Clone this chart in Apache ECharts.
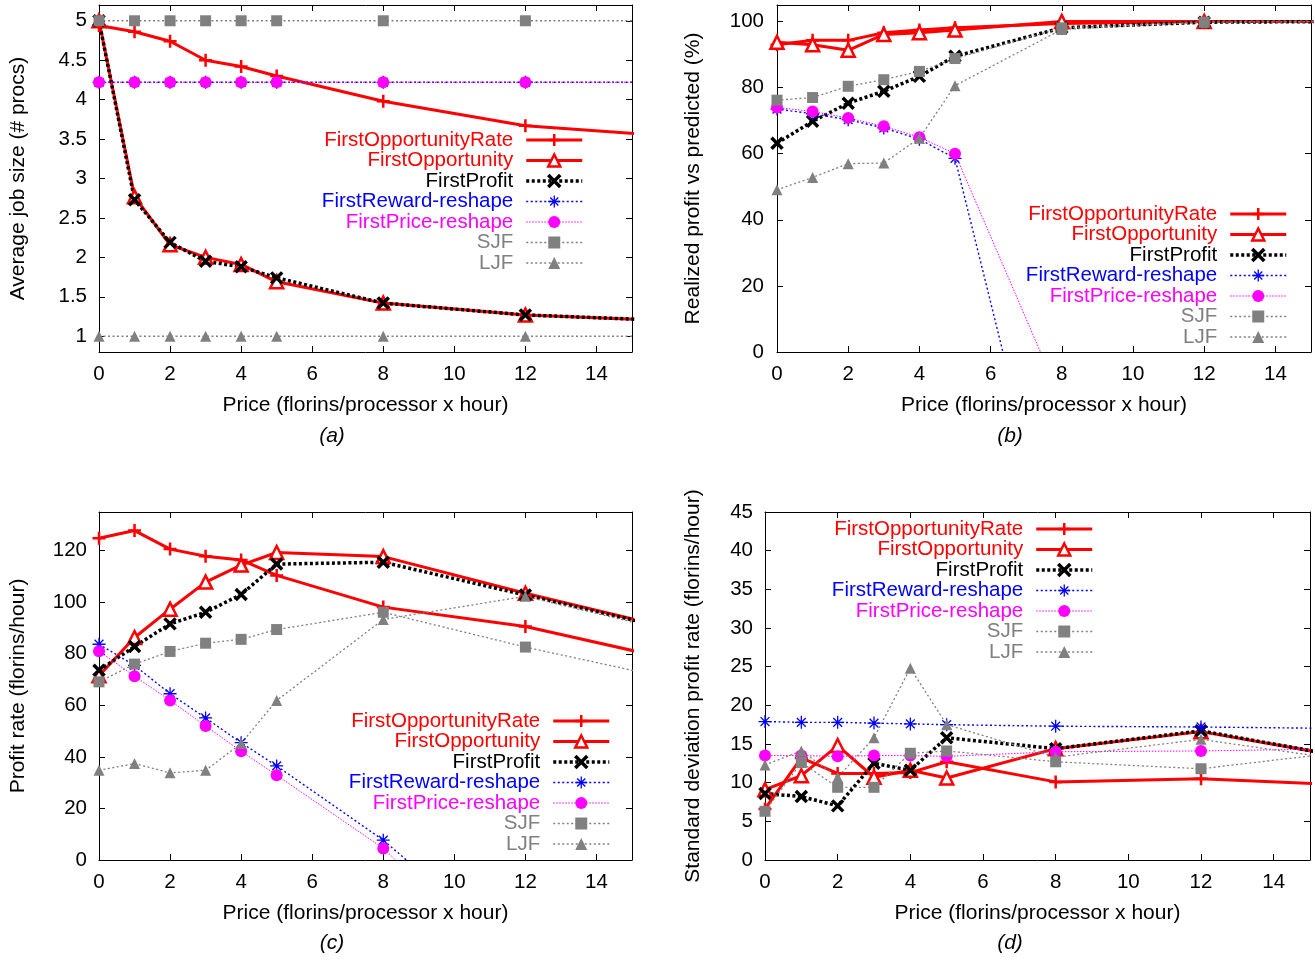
<!DOCTYPE html>
<html><head><meta charset="utf-8">
<script src="https://cdn.jsdelivr.net/npm/echarts@6/dist/echarts.min.js"></script>
<style>html,body{margin:0;padding:0;background:#fff}#chart{width:1315px;height:960px}</style>
</head><body><div id="chart"></div>
<script>
// ---------- data ----------
const seriesNames = ['FirstOpportunityRate','FirstOpportunity','FirstProfit','FirstReward-reshape','FirstPrice-reshape','SJF','LJF'];
const priceX = [0, 1, 2, 3, 4, 5, 8, 12, 16];
const priceTicks = [0, 2, 4, 6, 8, 10, 12, 14];

// (a) Average job size (# procs)
const jobSizeTicks = [1, 1.5, 2, 2.5, 3, 3.5, 4, 4.5, 5];
const jobSize_FOR  = [4.94, 4.86, 4.74, 4.50, 4.42, 4.30, 3.98, 3.67, 3.54];
const jobSize_FO   = [5.00, 2.77, 2.16, 2.00, 1.91, 1.69, 1.42, 1.27, 1.20];
const jobSize_FP   = [5.00, 2.73, 2.19, 1.95, 1.88, 1.74, 1.42, 1.27, 1.20];
const jobSize_FR   = [4.22, 4.22, 4.22, 4.22, 4.22, 4.22, 4.22, 4.22, 4.22];
const jobSize_FPr  = [4.22, 4.22, 4.22, 4.22, 4.22, 4.22, 4.22, 4.22, 4.22];
const jobSize_SJF  = [5, 5, 5, 5, 5, 5, 5, 5, 5];
const jobSize_LJF  = [1, 1, 1, 1, 1, 1, 1, 1, 1];

// (b) Realized profit vs predicted (%)
const realizedTicks = [0, 20, 40, 60, 80, 100];
const realized_FOR = [93.0, 94.3, 94.3, 96.6, 97.4, 98.1, 99.4, 100, 100];
const realized_FO  = [93.7, 93.0, 91.3, 96.1, 96.6, 97.4, 100, 100, 100];
const realized_FP  = [63.2, 69.8, 75.3, 78.9, 83.4, 89.5, 98.1, 99.8, 100];
const realized_FR  = [73.5, 72.1, 70.3, 67.8, 64.4, 58.6, -72, null, null];
const realized_FPr = [74.0, 72.8, 70.8, 68.3, 65.0, 60.0, -15, null, null];
const realized_SJF = [76.2, 77.0, 80.4, 82.4, 84.9, 88.8, 98.1, 99.8, 100];
const realized_LJF = [49.1, 52.8, 57.0, 57.2, 64.7, 80.6, 97.6, 99.8, 100];

// (c) Profit rate (florins/hour)
const profitTicks = [0, 20, 40, 60, 80, 100, 120];
const profit_FOR = [124.8, 127.8, 120.6, 117.8, 116.4, 110.4, 98.1, 90.6, 78.2];
const profit_FO  = [71.5, 86.3, 97.3, 107.8, 114.4, 119.3, 117.7, 103.5, 90.2];
const profit_FP  = [73.6, 82.8, 91.6, 96.1, 103.0, 114.8, 115.5, 102.8, 90.0];
const profit_FR  = [83.7, 75.5, 64.5, 55.1, 45.5, 36.5, 7.7, -39.5, null];
const profit_FPr = [81.0, 71.3, 61.9, 52.0, 42.2, 32.9, 4.5, -47, null];
const profit_SJF = [69.1, 76.0, 80.9, 84.1, 85.6, 89.4, 96.1, 82.6, 70.6];
const profit_LJF = [34.8, 37.4, 33.8, 34.8, 45.2, 61.9, 93.3, 102.3, 89.0];

// (d) Standard deviation profit rate (florins/hour)
const stdTicks = [0, 5, 10, 15, 20, 25, 30, 35, 40, 45];
const std_FOR = [6.6, 13.2, 11.2, 11.2, 11.3, 12.7, 10.1, 10.5, 9.7];
const std_FO  = [9.1, 10.9, 14.8, 10.7, 11.6, 10.6, 14.4, 16.6, 13.3];
const std_FP  = [8.6, 8.2, 7.0, 12.5, 11.6, 15.8, 14.4, 16.7, 13.3];
const std_FR  = [17.9, 17.8, 17.8, 17.7, 17.6, 17.5, 17.3, 17.2, 17.0];
const std_FPr = [13.5, 13.5, 13.4, 13.5, 13.5, 13.4, 14.0, 14.1, 14.4];
const std_SJF = [6.3, 12.6, 9.4, 9.4, 13.8, 14.1, 12.7, 11.8, 14.0];
const std_LJF = [12.3, 14.1, 10.7, 15.8, 24.8, 17.5, 13.3, 15.6, 12.9];

// ---------- styles ----------
const FONT = "'Liberation Sans', Arial, Helvetica, sans-serif";
const RED = '#ff0000', BLUE = '#0000ff', MAG = '#ff00ff', GRAY = '#808080', BLACK = '#000000';
const PLUS = 'path://M5 0L5 10M0 5L10 5';
const CROSS = 'path://M0 0L10 10M10 0L0 10';
const STAR = 'path://M5 0L5 10M0 5L10 5M1.6 1.6L8.4 8.4M8.4 1.6L1.6 8.4';
const styles = [
  {text: RED,   line: RED,   width: 3,   dash: 'solid',  symbol: PLUS,       size: 13, fill: RED,    stroke: RED,   sw: 2.5},
  {text: RED,   line: RED,   width: 3,   dash: 'solid',  symbol: 'triangle', size: 13, fill: '#fff', stroke: RED,   sw: 2.5},
  {text: BLACK, line: BLACK, width: 3.5, dash: [3, 2.5], symbol: CROSS,      size: 11, fill: BLACK,  stroke: BLACK, sw: 3.5},
  {text: BLUE,  line: BLUE,  width: 1.4, dash: [2, 2.5], symbol: STAR,       size: 13, fill: BLUE,   stroke: BLUE,  sw: 1.3},
  {text: MAG,   line: MAG,   width: 1,   dash: [1.5, 1.5], symbol: 'circle', size: 12, fill: MAG,    stroke: MAG,   sw: 0},
  {text: GRAY,  line: GRAY,  width: 1.3, dash: [2, 2.5], symbol: 'rect',     size: 11, fill: GRAY,   stroke: GRAY,  sw: 0},
  {text: GRAY,  line: GRAY,  width: 1.3, dash: [2, 2.5], symbol: 'triangle', size: 11, fill: GRAY,   stroke: GRAY,  sw: 0}
];

const panels = [
  {grid: {left: 99, top: 5, width: 533, height: 347}, yMin: 0.8, yMax: 5.2, yTicks: jobSizeTicks,
   yName: 'Average job size (# procs)', yNameGap: 70, yLabelMargin: 12,
   values: [jobSize_FOR, jobSize_FO, jobSize_FP, jobSize_FR, jobSize_FPr, jobSize_SJF, jobSize_LJF],
   legend: {right: 726, top: 124.5}, caption: '(a)', capX: 332, capY: 436},
  {grid: {left: 777, top: 5, width: 534, height: 347}, yMin: 0, yMax: 105, yTicks: realizedTicks,
   yName: 'Realized profit vs predicted (%)', yNameGap: 73, yLabelMargin: 13,
   values: [realized_FOR, realized_FO, realized_FP, realized_FR, realized_FPr, realized_SJF, realized_LJF],
   legend: {right: 22, top: 198.5}, caption: '(b)', capX: 1010, capY: 436},
  {grid: {left: 99, top: 512, width: 533, height: 348}, yMin: 0, yMax: 135, yTicks: profitTicks,
   yName: 'Profit rate (florins/hour)', yNameGap: 70, yLabelMargin: 12,
   values: [profit_FOR, profit_FO, profit_FP, profit_FR, profit_FPr, profit_SJF, profit_LJF],
   legend: {right: 699, top: 705.5}, caption: '(c)', capX: 332, capY: 943},
  {grid: {left: 765, top: 512, width: 545, height: 348}, yMin: 0, yMax: 45, yTicks: stdTicks,
   yName: 'Standard deviation profit rate (florins/hour)', yNameGap: 61, yLabelMargin: 12,
   values: [std_FOR, std_FO, std_FP, std_FR, std_FPr, std_SJF, std_LJF],
   legend: {right: 216, top: 513.5}, caption: '(d)', capX: 1010, capY: 943}
];

const grids = [], xAxes = [], yAxes = [], series = [], legends = [], graphics = [];
const axisLineStyle = {show: true, onZero: false, lineStyle: {color: '#000', width: 1}};

panels.forEach((p, pi) => {
  grids.push(Object.assign({containLabel: false, outerBoundsMode: 'none'}, p.grid));
  xAxes.push({
    type: 'value', gridIndex: pi, position: 'bottom', min: 0, max: 15,
    axisLine: axisLineStyle,
    axisTick: {show: true, inside: true, length: 6, customValues: priceTicks, lineStyle: {color: '#000'}},
    axisLabel: {show: true, customValues: priceTicks, margin: 12, fontSize: 20.5, color: '#000', fontFamily: FONT},
    splitLine: {show: false},
    name: 'Price (florins/processor x hour)', nameLocation: 'middle', nameGap: 43,
    nameTextStyle: {fontSize: 21, color: '#000', fontFamily: FONT}
  });
  xAxes.push({
    type: 'value', gridIndex: pi, position: 'top', min: 0, max: 15,
    axisLine: axisLineStyle,
    axisTick: {show: true, inside: true, length: 6, customValues: priceTicks, lineStyle: {color: '#000'}},
    axisLabel: {show: false}, splitLine: {show: false}
  });
  yAxes.push({
    type: 'value', gridIndex: pi, position: 'left', min: p.yMin, max: p.yMax,
    axisLine: axisLineStyle,
    axisTick: {show: true, inside: true, length: 6, customValues: p.yTicks, lineStyle: {color: '#000'}},
    axisLabel: {show: true, customValues: p.yTicks, margin: p.yLabelMargin, fontSize: 20.5, color: '#000', fontFamily: FONT},
    splitLine: {show: false},
    name: p.yName, nameLocation: 'middle', nameGap: p.yNameGap,
    nameTextStyle: {fontSize: 21, color: '#000', fontFamily: FONT}
  });
  yAxes.push({
    type: 'value', gridIndex: pi, position: 'right', min: p.yMin, max: p.yMax,
    axisLine: axisLineStyle,
    axisTick: {show: true, inside: true, length: 6, customValues: p.yTicks, lineStyle: {color: '#000'}},
    axisLabel: {show: false}, splitLine: {show: false}
  });
  seriesNames.forEach((name, si) => {
    const st = styles[si];
    const vals = p.values[si];
    const data = [];
    priceX.forEach((x, k) => { if (vals[k] != null) data.push([x, vals[k]]); });
    series.push({
      type: 'line', name: name, xAxisIndex: pi * 2, yAxisIndex: pi * 2, data: data,
      symbol: st.symbol, symbolSize: st.size, showAllSymbol: true,
      lineStyle: {color: st.line, width: st.width, type: st.dash},
      itemStyle: {color: st.fill, borderColor: st.stroke, borderWidth: st.sw},
      clip: true, silent: true, animation: false, emphasis: {disabled: true}
    });
  });
  legends.push({
    orient: 'vertical', align: 'right', right: p.legend.right, top: p.legend.top,
    itemWidth: 56, itemHeight: 15, itemGap: -0.5, padding: 5, selectedMode: false,
    textStyle: {fontSize: 20.5, lineHeight: 20.5, fontFamily: FONT, padding: [0, 8, 0, 0]},
    data: seriesNames.map((n, si) => ({
      name: n,
      textStyle: {color: styles[si].text},
      itemStyle: {color: styles[si].fill, borderColor: styles[si].stroke, borderWidth: styles[si].sw},
      lineStyle: {color: styles[si].line, width: styles[si].width, type: styles[si].dash}
    }))
  });
  graphics.push({
    type: 'text', x: p.capX, y: p.capY,
    style: {text: p.caption, fontSize: 21, fontStyle: 'italic', fontFamily: FONT, fill: '#000', align: 'center', verticalAlign: 'middle'}
  });
});

const chart = echarts.init(document.getElementById('chart'), null, {renderer: 'canvas'});
chart.setOption({
  animation: false,
  backgroundColor: '#fff',
  grid: grids, xAxis: xAxes, yAxis: yAxes, series: series, legend: legends, graphic: graphics
});
</script></body></html>
